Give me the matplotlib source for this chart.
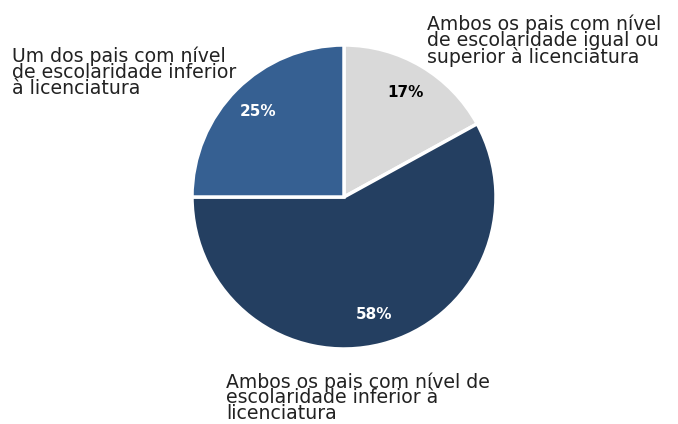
import matplotlib
matplotlib.use("Agg")
import matplotlib.pyplot as plt

categories = [
    "Ambos os pais com nível\nde escolaridade igual ou\nsuperior à licenciatura",
    "Ambos os pais com nível de\nescolaridade inferior à\nlicenciatura",
    "Um dos pais com nível\nde escolaridade inferior\nà licenciatura",
]
values = [17, 58, 25]
colors = ["#d9d9d9", "#243f61", "#366092"]
pct_colors = ["black", "white", "white"]

W, H = 678, 424
fig = plt.figure(figsize=(W / 100, H / 100), dpi=100)
cx, cy, r = 344, 197, 152
ax = fig.add_axes([(cx - r) / W, (H - cy - r) / H, 2 * r / W, 2 * r / H])
wedges, texts, autotexts = ax.pie(
    values, colors=colors, startangle=90, counterclock=False,
    autopct="%d%%", pctdistance=0.8,
    wedgeprops=dict(edgecolor="white", linewidth=2.5),
    textprops=dict(fontsize=11, fontweight="semibold", family="DejaVu Sans"),
)
for t, c in zip(autotexts, pct_colors):
    t.set_color(c)
ax.set_aspect("equal")
ax.set_xlim(-1, 1)
ax.set_ylim(-1, 1)

label_pos = [(427, 14), (226, 372), (12, 46)]
spacings = [0.82, 0.78, 0.82]
for lab, (x, y), ls in zip(categories, label_pos, spacings):
    fig.text(x / W, 1 - y / H, lab, ha="left", va="top", fontsize=13.6,
             family="DejaVu Sans", color="#222222", linespacing=ls)

fig.savefig("out.png", dpi=100)
